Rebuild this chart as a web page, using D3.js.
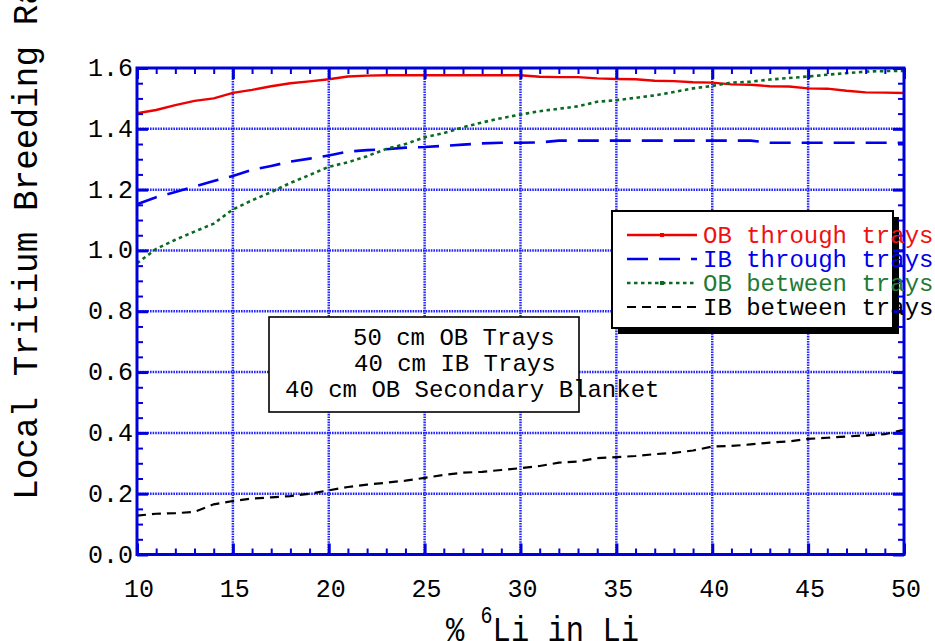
<!DOCTYPE html>
<html lang="en">
<head>
<meta charset="UTF-8">
<script src="https://cdn.jsdelivr.net/npm/d3@7"></script>
<title>Local Tritium Breeding Ratio</title>
<style>
  body { margin: 0; background: #fff; }
  text { font-family: "Liberation Mono", "Courier New", monospace; }
</style>
</head>
<body>
<script>
// % 6Li enrichment (x)
const pct6Li = [10,11,12,13,14,15,16,17,18,19,20,21,22,23,24,25,26,27,28,29,30,
                31,32,33,34,35,36,37,38,39,40,41,42,43,44,45,46,47,48,49,50];
// local TBR per configuration
const obThrough = [1.451,1.462,1.478,1.492,1.500,1.518,1.528,1.540,1.550,1.556,1.563,
                   1.572,1.575,1.576,1.576,1.576,1.576,1.576,1.576,1.576,1.576,
                   1.571,1.570,1.570,1.566,1.564,1.563,1.558,1.557,1.553,1.552,
                   1.546,1.545,1.540,1.539,1.533,1.532,1.525,1.520,1.519,1.518];
const ibThrough = [1.152,1.175,1.192,1.210,1.228,1.245,1.265,1.278,1.292,1.302,1.312,
                   1.325,1.330,1.333,1.338,1.340,1.344,1.348,1.352,1.354,1.354,
                   1.355,1.361,1.361,1.361,1.361,1.361,1.361,1.361,1.361,1.361,
                   1.361,1.361,1.354,1.354,1.354,1.354,1.354,1.354,1.354,1.354];
const obBetween = [0.958,1.005,1.035,1.062,1.088,1.135,1.165,1.192,1.222,1.248,1.275,
                   1.290,1.310,1.334,1.350,1.372,1.386,1.405,1.421,1.435,1.447,
                   1.458,1.466,1.474,1.489,1.494,1.502,1.510,1.521,1.533,1.541,
                   1.552,1.555,1.562,1.567,1.572,1.578,1.583,1.588,1.590,1.590];
const ibBetween = [0.128,0.134,0.136,0.140,0.165,0.176,0.184,0.188,0.192,0.200,0.211,
                   0.222,0.230,0.236,0.243,0.252,0.262,0.269,0.272,0.278,0.284,
                   0.291,0.302,0.306,0.317,0.320,0.324,0.330,0.334,0.342,0.355,
                   0.357,0.362,0.368,0.372,0.380,0.384,0.388,0.392,0.396,0.410];

const xTicks = [10,15,20,25,30,35,40,45,50];
const yTicks = [0.0,0.2,0.4,0.6,0.8,1.0,1.2,1.4,1.6];
const seriesNames = ["OB through trays","IB through trays","OB between trays","IB between trays"];
const noteLines = ["50 cm OB Trays","40 cm IB Trays","40 cm OB Secondary Blanket"];

const width = 935, height = 641;
const pLeft = 137, pRight = 904, pTop = 68, pBottom = 554.5;
const blue = "#0000dd";

const svg = d3.select("body").append("svg").attr("width", width).attr("height", height);

const x = d3.scaleLinear().domain([10, 50]).range([pLeft, pRight]);
const y = d3.scaleLinear().domain([0, 1.6]).range([pBottom, pTop]);

// 网格
const grid = svg.append("g").attr("stroke", "#2424ff").attr("stroke-width", 2.5).attr("stroke-dasharray", "1.6,1");
grid.selectAll(".vg").data(xTicks.slice(1, -1)).join("line")
  .attr("x1", d => x(d)).attr("x2", d => x(d)).attr("y1", pTop).attr("y2", pBottom);
grid.selectAll(".hg").data(yTicks.slice(1, -1)).join("line")
  .attr("y1", d => y(d)).attr("y2", d => y(d)).attr("x1", pLeft).attr("x2", pRight);

// 曲线
const series = [
  {name: seriesNames[0], values: obThrough, color: "#ee0000", dash: null,   w: 2.4, text: "#ee1111"},
  {name: seriesNames[1], values: ibThrough, color: "#0000ee", dash: "21,11", w: 2.6, text: "#0000ee"},
  {name: seriesNames[2], values: obBetween, color: "#0b6a22", dash: "3.5,3.5", w: 2.6, text: "#1f7a34"},
  {name: seriesNames[3], values: ibBetween, color: "#000000", dash: "9,6",  w: 2.2, text: "#000000"}
];
const line = d3.line().x(d => x(d[0])).y(d => y(d[1]));
series.forEach(s => {
  svg.append("path")
    .datum(pct6Li.map((p, i) => [p, s.values[i]]))
    .attr("d", line)
    .attr("fill", "none")
    .attr("stroke", s.color)
    .attr("stroke-width", s.w)
    .attr("stroke-dasharray", s.dash);
});

// 说明框
svg.append("rect").attr("x", 269).attr("y", 317).attr("width", 310).attr("height", 95)
  .attr("fill", "#fff").attr("stroke", "#000").attr("stroke-width", 1.6);

// 图例框 (带阴影)
const lg = {x: 612, y: 211, w: 281, h: 117};
svg.append("rect").attr("x", lg.x + 6).attr("y", lg.y + 6).attr("width", lg.w).attr("height", lg.h).attr("fill", "#000");
svg.append("rect").attr("x", lg.x).attr("y", lg.y).attr("width", lg.w).attr("height", lg.h)
  .attr("fill", "#fff").attr("stroke", "#000").attr("stroke-width", 2);

// 边框 + 刻度
svg.append("rect").attr("x", pLeft).attr("y", pTop).attr("width", pRight - pLeft).attr("height", pBottom - pTop)
  .attr("fill", "none").attr("stroke", blue).attr("stroke-width", 3);

const xMinor = x.ticks(40).filter(v => !xTicks.includes(v));
const yMinor = y.ticks(32).filter(v => !yTicks.some(t => Math.abs(t - v) < 1e-6));

function tickRow(axisFn, scale, values, size, w, tr) {
  const g = svg.append("g").attr("transform", tr)
    .call(axisFn(scale).tickValues(values).tickSizeInner(-size).tickSizeOuter(0).tickFormat(""));
  g.select(".domain").remove();
  g.selectAll("line").attr("stroke", blue).attr("stroke-width", w);
}
tickRow(d3.axisBottom, x, xTicks, 11, 3, `translate(0,${pBottom})`);
tickRow(d3.axisBottom, x, xMinor, 6, 2, `translate(0,${pBottom})`);
tickRow(d3.axisTop, x, xTicks, 11, 3, `translate(0,${pTop})`);
tickRow(d3.axisTop, x, xMinor, 6, 2, `translate(0,${pTop})`);
tickRow(d3.axisLeft, y, yTicks, 11, 3, `translate(${pLeft},0)`);
tickRow(d3.axisLeft, y, yMinor, 6, 2, `translate(${pLeft},0)`);
tickRow(d3.axisRight, y, yTicks, 11, 3, `translate(${pRight},0)`);
tickRow(d3.axisRight, y, yMinor, 6, 2, `translate(${pRight},0)`);

// 刻度文字
svg.selectAll(".xl").data(xTicks).join("text")
  .attr("x", d => x(d) + 2).attr("y", 597).attr("text-anchor", "middle")
  .attr("font-size", 25).text(d => d);
svg.selectAll(".yl").data(yTicks).join("text")
  .attr("x", 133).attr("y", d => y(d) + 8).attr("text-anchor", "end")
  .attr("font-size", 25).text(d => d3.format(".1f")(d));

// 轴标题
const xt = svg.append("text").attr("transform", "translate(446,641) scale(1,1.15)").attr("font-size", 30.5);
xt.append("tspan").text("% ");
xt.append("tspan").attr("font-size", 20).attr("dy", -16).attr("dx", -2).text("6");
xt.append("tspan").attr("dy", 16).text("Li in Li");

svg.append("text").attr("transform", "translate(37,500) rotate(-90)")
  .attr("font-size", 34.4).text("Local Tritium Breeding Ratio");

// 图例内容
series.forEach((s, i) => {
  const ly = 235 + i * 24;
  svg.append("line").attr("x1", 627).attr("x2", 697).attr("y1", ly).attr("y2", ly)
    .attr("stroke", s.color).attr("stroke-width", s.w).attr("stroke-dasharray", s.dash);
  if (i === 0 || i === 2) {
    svg.append("rect").attr("x", 660).attr("y", ly - 2).attr("width", 4).attr("height", 4).attr("fill", s.color);
  }
  svg.append("text").attr("x", 703).attr("y", ly + 8).attr("font-size", 24)
    .attr("fill", s.text).text(s.name);
});

// 说明文字
const noteX = [353, 354, 285];
noteLines.forEach((t, i) => {
  svg.append("text").attr("x", noteX[i]).attr("y", 345 + i * 25.8)
    .attr("font-size", 24).text(t);
});
</script>
</body>
</html>
